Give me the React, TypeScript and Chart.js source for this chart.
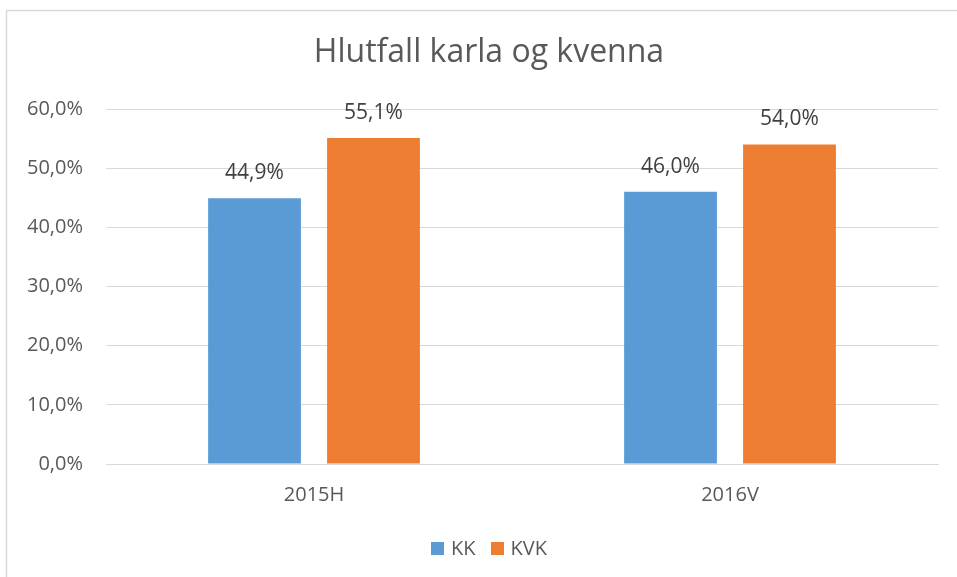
import React, { useEffect, useRef } from "react";
import { Chart, registerables } from "chart.js";

Chart.register(...registerables);

const categories = ["2015H", "2016V"];
const seriesNames = ["KK", "KVK"];
const seriesColors = ["#5B9BD5", "#ED7D31"];
const kkValues = [44.9, 46.0];
const kvkValues = [55.1, 54.0];
const yTicksMax = 60;
const yTickStep = 10;
const titleText = "Hlutfall karla og kvenna";

const FONT = "'Open Sans', 'Noto Sans', sans-serif";
const TEXT = "#595959";
// the chart frame extends a little past the right edge of the window;
// title and legend are centred on the frame, not on the window
const FRAME_CENTER_X = 489;

const fmt = (v: number) => v.toFixed(1).replace(".", ",") + "%";

const borderPlugin = {
  id: "outerBorder",
  beforeDraw(chart: any) {
    const { ctx } = chart;
    ctx.save();
    ctx.fillStyle = "#ffffff";
    ctx.fillRect(0, 0, chart.width, chart.height);
    ctx.strokeStyle = "#D9D9D9";
    ctx.lineWidth = 1.5;
    ctx.beginPath();
    ctx.moveTo(6.5, chart.height + 5);
    ctx.lineTo(6.5, 10.5);
    ctx.lineTo(chart.width + 5, 10.5);
    ctx.stroke();
    ctx.restore();
  },
};

const titleLegendPlugin = {
  id: "titleLegend",
  afterDraw(chart: any) {
    const { ctx } = chart;
    ctx.save();
    // title
    ctx.font = `32px ${FONT}`;
    ctx.fillStyle = TEXT;
    ctx.textAlign = "center";
    ctx.textBaseline = "middle";
    ctx.fillText(titleText, FRAME_CENTER_X, 53);
    // legend
    ctx.font = `20px ${FONT}`;
    ctx.textAlign = "left";
    const box = 13;
    const gap = 7;
    const itemGap = 15;
    const items = chart.data.datasets.map((ds: any) => ({
      label: ds.label,
      color: ds.backgroundColor,
      w: box + gap + ctx.measureText(ds.label).width,
    }));
    const total = items.reduce((s: number, it: any) => s + it.w, 0) + itemGap * (items.length - 1);
    let x = FRAME_CENTER_X - total / 2;
    const cy = 548;
    items.forEach((it: any) => {
      ctx.fillStyle = it.color;
      ctx.fillRect(Math.round(x), cy - 6, box, box);
      ctx.fillStyle = TEXT;
      ctx.fillText(it.label, x + box + gap, cy + 1);
      x += it.w + itemGap;
    });
    ctx.restore();
  },
};

const dataLabelPlugin = {
  id: "dataLabels",
  afterDatasetsDraw(chart: any) {
    const { ctx } = chart;
    ctx.save();
    ctx.font = `21px ${FONT}`;
    ctx.fillStyle = "#404040";
    ctx.textAlign = "center";
    ctx.textBaseline = "middle";
    chart.data.datasets.forEach((ds: any, i: number) => {
      const meta = chart.getDatasetMeta(i);
      meta.data.forEach((bar: any, j: number) => {
        ctx.fillText(fmt(ds.data[j]), bar.x, bar.y - 25);
      });
    });
    ctx.restore();
  },
};

export default function App() {
  const ref = useRef<HTMLCanvasElement>(null);
  useEffect(() => {
    if (!ref.current) return;
    const chart = new Chart(ref.current, {
      type: "bar",
      data: {
        labels: categories,
        datasets: [
          {
            label: seriesNames[0],
            data: kkValues,
            backgroundColor: seriesColors[0],
            categoryPercentage: 0.572,
            barPercentage: 0.78,
          },
          {
            label: seriesNames[1],
            data: kvkValues,
            backgroundColor: seriesColors[1],
            categoryPercentage: 0.572,
            barPercentage: 0.78,
          },
        ],
      },
      options: {
        animation: false,
        responsive: false,
        maintainAspectRatio: false,
        layout: { padding: { left: 0, right: 19, top: 109, bottom: 48 } },
        plugins: {
          title: { display: false },
          legend: { display: false },
          tooltip: { enabled: false },
        },
        scales: {
          x: {
            grid: { display: false, drawTicks: false },
            border: { color: "#D9D9D9", width: 1 },
            ticks: {
              color: TEXT,
              font: { family: FONT, size: 20 },
              padding: 19,
            },
            afterFit: (scale: any) => {
              scale.height = 65;
            },
          },
          y: {
            min: 0,
            max: yTicksMax,
            ticks: {
              stepSize: yTickStep,
              color: TEXT,
              font: { family: FONT, size: 20 },
              padding: 23,
              callback: (v: any) => fmt(Number(v)),
            },
            grid: { color: "#D9D9D9", drawTicks: false },
            border: { display: false },
            afterFit: (scale: any) => {
              scale.width = 106;
            },
          },
        },
      },
      plugins: [borderPlugin, dataLabelPlugin, titleLegendPlugin],
    });
    return () => chart.destroy();
  }, []);
  return (
    <div style={{ position: "fixed", left: 0, top: 0, width: 957, height: 577, background: "#fff" }}>
      <canvas ref={ref} width={957} height={577} style={{ display: "block" }} />
    </div>
  );
}
